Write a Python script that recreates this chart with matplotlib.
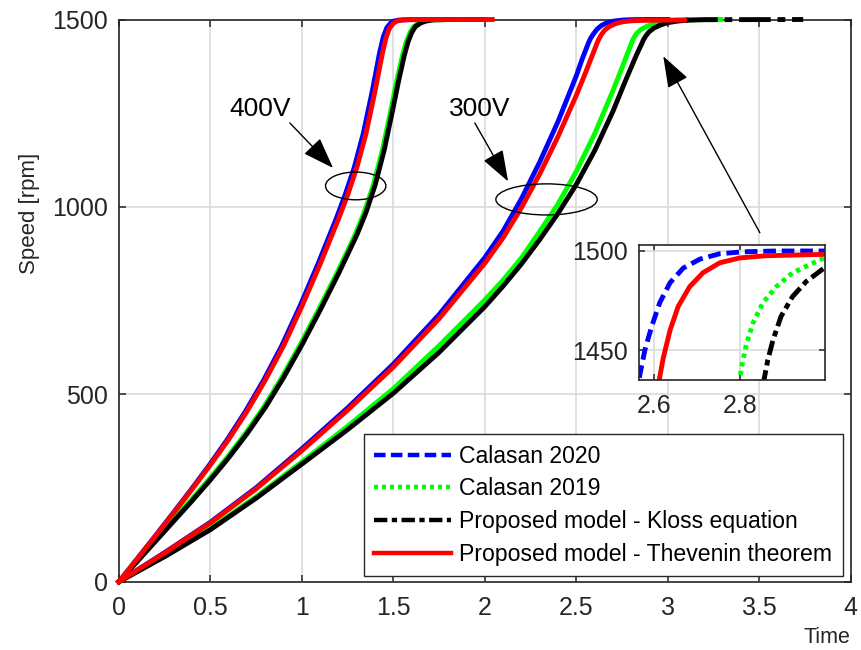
import matplotlib
matplotlib.use('Agg')
import matplotlib.pyplot as plt
import numpy as np
from matplotlib.patches import Ellipse
from matplotlib.lines import Line2D

plt.rcParams['font.family'] = ['Liberation Sans', 'DejaVu Sans']

# ---- data (time [s], speed [rpm]) ----
# 400 V start-up
t_r400 = [0, 0.1, 0.2, 0.3, 0.4, 0.5, 0.6, 0.7, 0.8, 0.9, 1.0, 1.1, 1.2, 1.25, 1.3, 1.35,
          1.4, 1.44, 1.46, 1.48, 1.50, 1.52, 1.55, 1.6, 2.04]
w_r400 = [0, 61, 122, 184, 247, 312, 380, 455, 538, 630, 735, 848, 968, 1032, 1105, 1195,
          1310, 1410, 1452, 1478, 1490, 1496, 1498.6, 1499.6, 1500]
t_b400 = [0, 0.099, 0.198, 0.297, 0.396, 0.495, 0.593, 0.692, 0.791, 0.89, 0.989, 1.088,
          1.187, 1.236, 1.286, 1.335, 1.385, 1.424, 1.444, 1.464, 1.484, 1.503, 1.533,
          1.583, 1.8]
w_b400 = [0, 61, 122, 184, 247, 312, 380, 455, 538, 630, 735, 848, 968, 1032, 1105, 1195,
          1310, 1410, 1452, 1478, 1490, 1496, 1498.6, 1499.6, 1500]
t_k400 = [0, 0.1, 0.2, 0.3, 0.4, 0.5, 0.6, 0.7, 0.8, 0.9, 1.0, 1.1, 1.2, 1.3, 1.35, 1.4,
          1.45, 1.5, 1.53, 1.56, 1.58, 1.6, 1.62, 1.65, 1.68, 1.72, 1.8, 2.0]
w_k400 = [0, 54, 108, 162, 216, 272, 331, 395, 465, 545, 632, 725, 822, 925, 985, 1058,
          1152, 1268, 1340, 1405, 1440, 1465, 1481, 1491, 1496, 1499, 1499.8, 1500]
t_g400 = [0, 0.09, 0.19, 0.29, 0.39, 0.49, 0.59, 0.69, 0.79, 0.89, 0.99, 1.09, 1.19, 1.29,
          1.34, 1.39, 1.44, 1.49, 1.52, 1.55, 1.57, 1.59, 1.61, 1.64, 1.67, 1.71, 1.79, 2.0]
w_g400 = [0, 54, 108, 162, 216, 272, 331, 395, 465, 545, 632, 725, 822, 925, 985, 1058,
          1152, 1268, 1340, 1405, 1440, 1465, 1481, 1491, 1496, 1499, 1499.8, 1500]

# 300 V start-up
t_r300 = [0, 0.25, 0.5, 0.75, 1.0, 1.25, 1.5, 1.75, 2.0, 2.1, 2.2, 2.3, 2.4, 2.5, 2.55,
          2.6117, 2.621, 2.637, 2.656, 2.683, 2.714, 2.753, 2.8, 2.862, 2.998, 3.09]
w_r300 = [0, 77, 157, 248, 350, 458, 573, 702, 850, 918, 998, 1088, 1188, 1298, 1358,
          1435, 1446, 1460, 1472, 1482, 1489, 1494, 1496.5, 1497.6, 1498.3, 1498.5]
t_b300 = [0, 0.25, 0.5, 0.75, 1.0, 1.25, 1.5, 1.75, 2.0, 2.1, 2.2, 2.3, 2.4, 2.5, 2.53,
          2.5666, 2.578, 2.594, 2.613, 2.637, 2.668, 2.707, 2.753, 2.808, 2.886, 3.0]
w_b300 = [0, 78, 159, 251, 355, 464, 581, 713, 865, 936, 1022, 1120, 1228, 1350, 1392,
          1438, 1450, 1462, 1474, 1484, 1491.4, 1495.9, 1498.6, 1499.6, 1500, 1500]
t_g300 = [0, 0.25, 0.5, 0.75, 1.0, 1.25, 1.5, 1.75, 2.0, 2.1, 2.2, 2.3, 2.4, 2.5, 2.6, 2.7,
          2.75, 2.8, 2.806, 2.816, 2.831, 2.854, 2.886, 2.924, 2.963, 2.998, 3.05, 3.1, 3.29]
w_g300 = [0, 69, 142, 227, 320, 415, 515, 630, 752, 805, 864, 935, 1008, 1095, 1195, 1310,
          1372, 1435, 1443, 1453, 1463.5, 1473.7, 1482, 1489, 1493, 1496.5, 1498.2, 1499, 1500]
t_k300 = [0, 0.25, 0.5, 0.75, 1.0, 1.25, 1.5, 1.75, 2.0, 2.1, 2.2, 2.3, 2.4, 2.5, 2.6, 2.7,
          2.756, 2.8, 2.83, 2.858, 2.866, 2.878, 2.897, 2.924, 2.956, 2.998, 3.05, 3.1, 3.2, 3.74]
w_k300 = [0, 67, 139, 223, 314, 406, 503, 612, 734, 789, 848, 913, 983, 1060, 1150, 1255,
          1322, 1373, 1407, 1436, 1445, 1455, 1467, 1477, 1484.6, 1491.4, 1495.5, 1498,
          1499.5, 1500]

labels = ['Calasan 2020', 'Calasan 2019', 'Proposed model - Kloss equation',
          'Proposed model - Thevenin theorem']
colors = ['#0000ff', '#00ff00', '#000000', '#ff0000']
dash_styles = [(0, (2.6, 1.2)), (0, (0.9, 0.9)), (0, (3.0, 1.0, 1.2, 1.0)), '-']

x_ticks = [0, 0.5, 1, 1.5, 2, 2.5, 3, 3.5, 4]
y_ticks = [0, 500, 1000, 1500]

axis_col = '#262626'
grid_col = '#dadada'

fig = plt.figure(figsize=(8.62, 6.5), dpi=100)
ax = fig.add_axes([0.138, 0.105, 0.849, 0.865])

lw = 3.5
series400 = [(t_b400, w_b400), (t_g400, w_g400), (t_k400, w_k400), (t_r400, w_r400)]
series300 = [(t_b300, w_b300), (t_g300, w_g300), (t_k300, w_k300), (t_r300, w_r300)]

for i in range(4):
    for t, w in (series400[i], series300[i]):
        t = np.asarray(t)
        w = np.asarray(w)
        if i == 2 and t[-1] > 3.2:
            # rising part looks solid, settled tail shows the dash-dot pattern
            m = t <= 3.1
            ax.plot(t[m], w[m], color=colors[i], lw=lw, clip_on=False, zorder=3)
            ax.plot(t[t >= 3.1], w[t >= 3.1], color=colors[i], lw=lw, clip_on=False,
                    zorder=3, linestyle=(0, (6.5, 1.4, 1.6, 1.4)))
        else:
            ax.plot(t, w, color=colors[i], lw=lw, clip_on=False, zorder=3 + (i == 3))

ax.set_xlim(0, 4)
ax.set_ylim(0, 1500)
ax.set_xticks(x_ticks)
ax.set_xticklabels(['0', '0.5', '1', '1.5', '2', '2.5', '3', '3.5', '4'])
ax.set_yticks(y_ticks)
ax.grid(True, color=grid_col, lw=1.2)
ax.set_axisbelow(True)
ax.tick_params(direction='in', length=5, width=1.1, colors=axis_col, labelsize=18,
               top=True, right=True)
ax.tick_params(axis='x', pad=10)
ax.tick_params(axis='y', pad=8)
for s in ax.spines.values():
    s.set_color(axis_col)
    s.set_linewidth(1.2)
ax.set_ylabel('Speed [rpm]', fontsize=16, color=axis_col, labelpad=4)
ax.yaxis.set_label_coords(-0.108, 0.655)
ax.set_xlabel('Time', fontsize=15.5, color=axis_col, loc='right', labelpad=5)

# annotations
ax.add_patch(Ellipse((1.294, 1056), 0.33, 74, fill=False, lw=1, ec='black', zorder=5))
ax.add_patch(Ellipse((2.337, 1020), 0.554, 83, fill=False, lw=1, ec='black', zorder=5))
ax.text(0.77, 1262, '400V', fontsize=19, ha='center', va='center')
ax.text(1.973, 1262, '300V', fontsize=19, ha='center', va='center')
arrow = dict(arrowstyle='-|>,head_length=1.4,head_width=0.5', lw=1, color='black',
             shrinkA=0, shrinkB=0, mutation_scale=14)
ax.annotate('', xy=(1.17, 1104), xytext=(0.934, 1224), arrowprops=arrow)
ax.annotate('', xy=(2.127, 1068), xytext=(1.945, 1224), arrowprops=arrow)
ax.annotate('', xy=(2.975, 1402), xytext=(3.503, 931), arrowprops=arrow)

# legend
handles = [Line2D([], [], color=colors[i], lw=3.2, linestyle=dash_styles[i])
           for i in range(4)]
leg = ax.legend(handles, labels, loc='lower right', bbox_to_anchor=(0.989, 0.010),
                borderaxespad=0, fontsize=16.6, handlelength=3.35, handletextpad=0.35,
                labelspacing=0.42, fancybox=False, framealpha=1, edgecolor=axis_col,
                borderpad=0.45)
leg.get_frame().set_linewidth(1.0)
leg.set_zorder(10)

# inset zoom on the 300 V settling
axi = fig.add_axes([0.7417, 0.4158, 0.2154, 0.2072])
for i in range(4):
    axi.plot(series300[i][0], series300[i][1], color=colors[i], lw=lw,
             linestyle=dash_styles[i], dash_capstyle='butt')
axi.set_xlim(2.565, 3.0)
axi.set_ylim(1435, 1503)
axi.set_xticks([2.6, 2.8])
axi.set_yticks([1450, 1500])
axi.grid(True, color=grid_col, lw=1.2)
axi.set_axisbelow(True)
axi.tick_params(direction='in', length=4, width=1.1, colors=axis_col, labelsize=18,
                top=True, right=True)
axi.tick_params(axis='x', pad=10)
axi.tick_params(axis='y', pad=8)
for s in axi.spines.values():
    s.set_color(axis_col)
    s.set_linewidth(1.2)

fig.savefig('out.png', dpi=100)
